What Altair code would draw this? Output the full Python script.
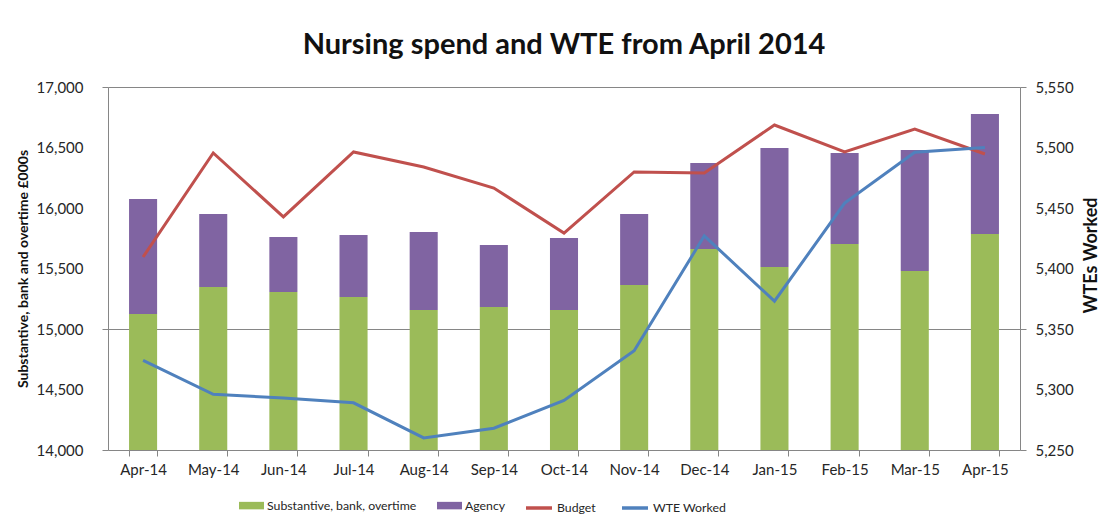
import altair as alt
import pandas as pd

months = ["Apr-14", "May-14", "Jun-14", "Jul-14", "Aug-14", "Sep-14", "Oct-14",
          "Nov-14", "Dec-14", "Jan-15", "Feb-15", "Mar-15", "Apr-15"]
substantive = [15124, 15347, 15306, 15264, 15157, 15182, 15157, 15364, 15661, 15512, 15702, 15479, 15785]
agency = [950, 603, 454, 513, 645, 512, 595, 586, 711, 984, 753, 1000, 992]
budget = [15595, 16455, 15926, 16463, 16339, 16165, 15793, 16298, 16289, 16686, 16463, 16653, 16446]
wte = [5324, 5296, 5293, 5289, 5260, 5268, 5291, 5332, 5427, 5373, 5454, 5496, 5500]

bar_series = ["Substantive, bank, overtime", "Agency"]
line_series = ["Budget", "WTE Worked"]

rows = []
for i, m in enumerate(months):
    rows.append({"month": m, "series": bar_series[0], "value": substantive[i], "order": 0})
    rows.append({"month": m, "series": bar_series[1], "value": agency[i], "order": 1})
bars_df = pd.DataFrame(rows)
budget_df = pd.DataFrame({"month": months, "value": budget, "series": line_series[0]})
wte_df = pd.DataFrame({"month": months, "value": wte, "series": line_series[1]})

FONT = "Lato"
GRID = "#868686"
LBL = "#262626"

xenc = alt.X("month:N", sort=months, title=None,
             scale=alt.Scale(paddingInner=0.6, paddingOuter=0.3),
             axis=alt.Axis(tickBand="extent", labelAngle=0, labelFontSize=15, labelColor=LBL,
                           labelFont=FONT, domainColor=GRID, tickColor=GRID, tickSize=6,
                           labelPadding=6, grid=False))

left_scale = alt.Scale(domain=[14000, 17000], nice=False, zero=False)
left_axis = alt.Axis(values=[14000, 14500, 15000, 15500, 16000, 16500, 17000], format=",.0f",
                     title="Substantive, bank and overtime £000s", titleFontSize=14,
                     titleFont=FONT, titleFontWeight="bold", titleColor="#111", titlePadding=6,
                     labelFontSize=15, labelFont=FONT, labelColor=LBL, labelPadding=19,
                     domainColor=GRID, tickColor=GRID, tickSize=6,
                     tickOpacity={"condition": {"test": "datum.value == 14000 || datum.value == 15000 || datum.value == 17000", "value": 1}, "value": 0},
                     grid=True, gridColor=GRID, gridWidth=1,
                     gridOpacity={"condition": {"test": "datum.value == 15000 || datum.value == 17000", "value": 1}, "value": 0})

bars = alt.Chart(bars_df).mark_bar(clip=True).encode(
    x=xenc,
    y=alt.Y("value:Q", stack="zero", scale=left_scale, axis=left_axis),
    color=alt.Color("series:N", sort=bar_series,
                    scale=alt.Scale(domain=bar_series, range=["#9BBB59", "#8064A2"]),
                    legend=alt.Legend(title=None, orient="none", legendX=131, legendY=406,
                                      direction="horizontal", symbolType="M-1,-0.3H1V0.3H-1Z",
                                      symbolSize=625, symbolStrokeWidth=0, labelFontSize=12.3,
                                      labelFont=FONT, labelColor=LBL, columnPadding=20,
                                      labelOffset=3, symbolOpacity=1)),
    order=alt.Order("order:Q"),
)

stroke_scale = alt.Scale(domain=line_series, range=["#C0504D", "#4F81BD"])
stroke_legend = alt.Legend(title=None, orient="none", legendX=416, legendY=406,
                           direction="horizontal", symbolType="stroke", symbolSize=676,
                           symbolStrokeWidth=3.5, labelFontSize=12.3, labelFont=FONT,
                           labelColor=LBL, columnPadding=19, labelOffset=3)

budget_line = alt.Chart(budget_df).mark_line(strokeWidth=3).encode(
    x=alt.X("month:N", sort=months),
    y=alt.Y("value:Q", scale=left_scale),
    stroke=alt.Stroke("series:N", scale=stroke_scale, legend=stroke_legend),
)

wte_line = alt.Chart(wte_df).mark_line(strokeWidth=3).encode(
    x=alt.X("month:N", sort=months),
    y=alt.Y("value:Q", scale=alt.Scale(domain=[5250, 5550], nice=False, zero=False),
            axis=alt.Axis(orient="right", values=[5250, 5300, 5350, 5400, 5450, 5500, 5550],
                          format=",.0f", title="WTEs Worked", titleAngle=270, titleFontSize=18,
                          titleFont=FONT, titleFontWeight="bold", titleColor="#111",
                          titlePadding=27, titleY=168, labelFontSize=15, labelFont=FONT,
                          labelColor=LBL, labelPadding=9, domainColor=GRID, tickColor=GRID,
                          tickSize=6,
                          tickOpacity={"condition": {"test": "datum.value == 5250 || datum.value == 5350 || datum.value == 5550", "value": 1}, "value": 0},
                          grid=False)),
    stroke=alt.Stroke("series:N", scale=stroke_scale, legend=stroke_legend),
)

chart = alt.layer(alt.layer(bars, budget_line), wte_line).resolve_scale(
    y="independent"
).properties(
    width=912, height=363,
    title=alt.Title("Nursing spend and WTE from April 2014", font=FONT, fontSize=29,
                    fontWeight="bold", color="#111", anchor="middle", offset=20),
    autosize=alt.AutoSizeParams(type="none"),
    padding={"left": 100, "top": 79, "right": 82, "bottom": 69},
).configure_view(stroke=None).configure(background="white")

chart.save("out.html", embed_options={"renderer": "svg", "actions": False})
